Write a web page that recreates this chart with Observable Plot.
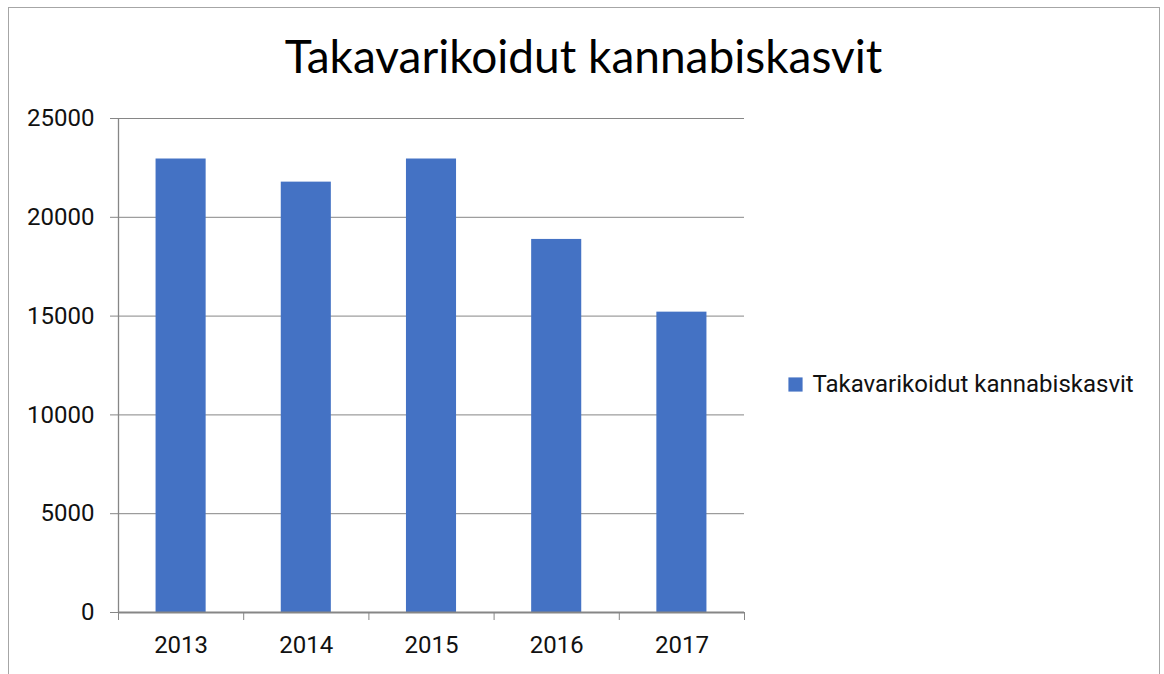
<!DOCTYPE html>
<html>
<head>
<meta charset="utf-8">
<script src="https://cdn.jsdelivr.net/npm/d3@7"></script>
<script src="https://cdn.jsdelivr.net/npm/@observablehq/plot@0.6"></script>
<style>
  html, body { margin: 0; padding: 0; background: #fff; }
  #wrap { position: relative; width: 1164px; height: 674px; overflow: hidden; }
  #border { position: absolute; left: 8px; top: 7px; width: 1152px; height: 700px; border: 1px solid #a6a6a6; box-sizing: border-box; }
  #chart { position: absolute; left: 0; top: 0; }
</style>
</head>
<body>
<div id="wrap"><div id="border"></div><div id="chart"></div></div>
<script>
const title = "Takavarikoidut kannabiskasvit";
const seriesName = "Takavarikoidut kannabiskasvit";
const years = ["2013", "2014", "2015", "2016", "2017"];
const values = [22950, 21780, 22950, 18880, 15200];
const yTicks = [0, 5000, 10000, 15000, 20000, 25000];

const data = years.map((y, i) => ({year: y, i, value: values[i]}));
const boundaries = d3.range(years.length + 1);
const centers = years.map((y, i) => i + 0.5);

const FONT = "Roboto, 'Open Sans', sans-serif";
const GRAY = "#868686";
const BLUE = "#4472C4";

const chart = Plot.plot({
  width: 1164,
  height: 674,
  marginLeft: 118,
  marginRight: 420,
  marginTop: 118,
  marginBottom: 62,
  style: {fontFamily: FONT, background: "transparent", color: "#000"},
  x: {domain: [0, years.length]},
  y: {domain: [0, 25000]},
  marks: [
    Plot.gridY(yTicks, {stroke: GRAY, strokeOpacity: 1, strokeWidth: 1}),
    Plot.axisY(yTicks, {tickSize: 8, tickPadding: 16, stroke: GRAY, fontSize: 24, fill: "#111", label: null, tickFormat: d => String(d)}),
    Plot.ruleX([0], {y1: 0, y2: 25000, stroke: GRAY, strokeWidth: 1.3}),
    Plot.rectY(data, {x1: d => d.i + 0.3, x2: d => d.i + 0.7, y: "value", fill: BLUE}),
    Plot.ruleY([0], {stroke: GRAY, strokeWidth: 2}),
    Plot.axisX(boundaries, {tickSize: 8, stroke: GRAY, tickFormat: () => "", label: null}),
    Plot.axisX(centers, {tickSize: 0, tickPadding: 23, fontSize: 24, fill: "#111", label: null, tickFormat: d => years[Math.floor(d)]}),
    Plot.text([title], {frameAnchor: "top", text: d => d, dx: 152, dy: -46, fontSize: 46, fill: "#000", lineAnchor: "bottom", fontFamily: "Lato, sans-serif"}),
    Plot.dot([seriesName], {frameAnchor: "right", dx: 51, dy: 19, symbol: "square", r: 8, fill: BLUE, stroke: null}),
    Plot.text([seriesName], {frameAnchor: "right", text: d => d, dx: 68, dy: 19, fontSize: 24, fill: "#111", textAnchor: "start"})
  ]
});
document.getElementById("chart").appendChild(chart);
</script>
</body>
</html>
